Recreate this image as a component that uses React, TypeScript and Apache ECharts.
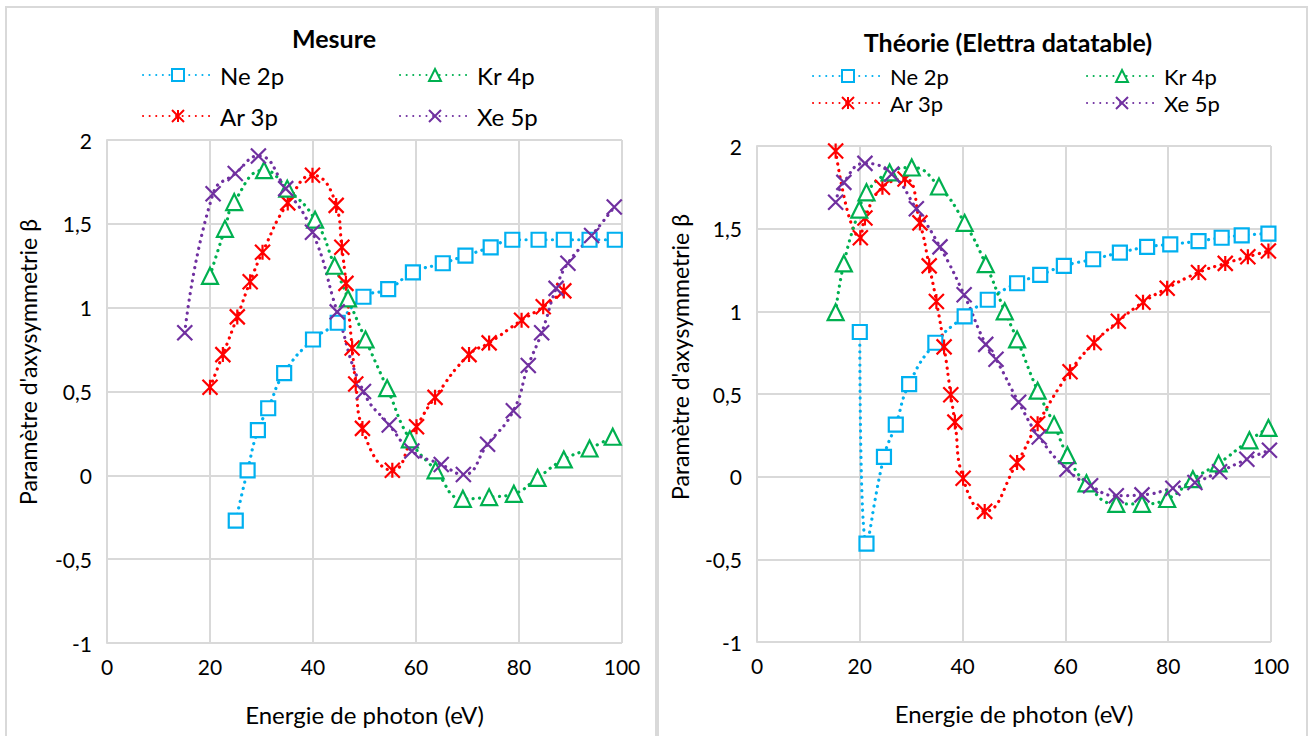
import React, { useEffect, useRef } from "react";
import * as echarts from "echarts";

// ---- Mesure (left panel) ----
const neMesX = [25, 27.3, 29.3, 31.3, 34.4, 40, 44.8, 49.8, 54.6, 59.4, 65.2, 69.6, 74.5, 78.7, 83.8, 88.7, 93.7, 98.6];
const neMesY = [-0.27, 0.03, 0.27, 0.4, 0.61, 0.81, 0.91, 1.065, 1.11, 1.21, 1.265, 1.31, 1.36, 1.405, 1.405, 1.405, 1.405, 1.405];

const krMesX = [20, 22.9, 24.7, 30.5, 35, 40.4, 44.2, 46.8, 50.2, 54.4, 58.8, 63.8, 69.1, 74.2, 79, 83.6, 88.7, 93.7, 98.2];
const krMesY = [1.19, 1.47, 1.63, 1.82, 1.71, 1.525, 1.25, 1.055, 0.81, 0.52, 0.215, 0.03, -0.14, -0.13, -0.11, -0.015, 0.095, 0.16, 0.23];

const arMesX = [20, 22.5, 25.3, 27.8, 30.2, 35.1, 39.9, 44.5, 45.6, 46.4, 47.6, 48.3, 49.6, 55.4, 60.1, 63.7, 70.3, 74.2, 80.5, 84.7, 88.7];
const arMesY = [0.525, 0.72, 0.945, 1.155, 1.33, 1.625, 1.79, 1.61, 1.36, 1.145, 0.76, 0.545, 0.28, 0.03, 0.29, 0.465, 0.72, 0.79, 0.925, 1.005, 1.1];

const xeMesX = [15.1, 20.6, 24.9, 29.4, 34.7, 39.9, 44.7, 49.8, 54.8, 59.2, 64.9, 69.2, 73.9, 78.9, 81.8, 84.4, 87.2, 89.5, 94.1, 98.5];
const xeMesY = [0.85, 1.68, 1.8, 1.905, 1.71, 1.45, 0.975, 0.5, 0.3, 0.145, 0.065, 0.005, 0.185, 0.385, 0.655, 0.85, 1.115, 1.265, 1.43, 1.6];

// ---- Théorie (right panel) ----
const neThX = [20, 21.3, 24.7, 27, 29.6, 34.7, 40.4, 44.9, 50.6, 55.1, 59.7, 65.4, 70.6, 75.9, 80.4, 85.9, 90.4, 94.3, 99.5];
const neThY = [0.875, -0.405, 0.12, 0.315, 0.56, 0.81, 0.97, 1.07, 1.17, 1.22, 1.275, 1.315, 1.355, 1.39, 1.405, 1.425, 1.445, 1.46, 1.47];

const krThX = [15.3, 16.9, 19.9, 21.3, 25.8, 30.1, 35.4, 40.4, 44.5, 48.2, 50.6, 54.6, 57.8, 60.4, 64.1, 69.9, 74.9, 79.8, 84.8, 89.8, 95.8, 99.5];
const krThY = [0.995, 1.29, 1.615, 1.72, 1.84, 1.87, 1.755, 1.535, 1.285, 1.0, 0.83, 0.52, 0.315, 0.13, -0.04, -0.165, -0.165, -0.135, -0.015, 0.08, 0.22, 0.295];

const arThX = [15.3, 20.1, 21, 24.4, 28.8, 31.7, 33.5, 34.9, 36.4, 37.7, 38.5, 40.1, 44.3, 50.6, 54.6, 60.9, 65.6, 70.3, 75.1, 79.8, 85.9, 91.1, 95.5, 99.5];
const arThY = [1.97, 1.445, 1.565, 1.75, 1.8, 1.535, 1.275, 1.06, 0.785, 0.495, 0.33, -0.01, -0.21, 0.085, 0.32, 0.635, 0.81, 0.94, 1.055, 1.14, 1.235, 1.29, 1.33, 1.365];

const xeThX = [15.3, 16.9, 21, 26.2, 31, 35.6, 40.3, 44.5, 46.5, 50.9, 54.9, 60.3, 64.9, 69.9, 74.9, 80.9, 85.2, 90, 95.3, 99.7];
const xeThY = [1.66, 1.78, 1.895, 1.83, 1.62, 1.39, 1.1, 0.8, 0.71, 0.45, 0.24, 0.045, -0.055, -0.115, -0.11, -0.07, -0.035, 0.03, 0.105, 0.16];

const panelTitles = ["Mesure", "Théorie (Elettra datatable)"];
const xAxisTitle = "Energie de photon (eV)";
const yAxisTitle = "Paramètre d'axysymmetrie β";

const FONT = "Lato, 'Open Sans', 'DejaVu Sans', sans-serif";

const COLORS: Record<string, string> = {
  "Ne 2p": "#00B0F0",
  "Kr 4p": "#00B050",
  "Ar 3p": "#FF0000",
  "Xe 5p": "#7030A0",
};

const SYMBOLS: Record<string, string> = {
  "Ne 2p": "rect",
  "Kr 4p": "triangle",
  "Ar 3p": "path://M0,0 L0,20 M-10,0 L10,20 M-10,20 L10,0",
  "Xe 5p": "path://M-10,0 L10,20 M-10,20 L10,0",
};

const SIZES: Record<string, number> = {
  "Ne 2p": 14,
  "Kr 4p": 16,
  "Ar 3p": 15,
  "Xe 5p": 15,
};

function pairs(xs: number[], ys: number[]) {
  return xs.map((x, i) => [x, ys[i]]);
}

function makeSeries(name: string, xs: number[], ys: number[], idx: number) {
  const c = COLORS[name];
  const open = name === "Ne 2p" || name === "Kr 4p";
  return {
    type: "line",
    name,
    xAxisIndex: idx,
    yAxisIndex: idx,
    data: pairs(xs, ys),
    smooth: 0.5,
    symbol: SYMBOLS[name],
    symbolSize: SIZES[name],
    showAllSymbol: true,
    lineStyle: { color: c, width: 3.2, type: [0.1, 6.5], cap: "round" },
    itemStyle: { color: open ? "#ffffff" : c, borderColor: c, borderWidth: 2.2 },
    z: 3,
  };
}

const gridBox = [
  { left: 107, top: 140, width: 515, height: 503 },
  { left: 757, top: 146, width: 514, height: 496 },
];

function xAx(i: number) {
  return {
    type: "value",
    gridIndex: i,
    min: 0,
    max: 100,
    interval: 20,
    name: xAxisTitle,
    nameLocation: "middle",
    nameGap: 59,
    nameTextStyle: { fontSize: 24, fontFamily: FONT, color: "#000" },
    axisLine: { show: true, lineStyle: { color: "#d9d9d9", width: 2 } },
    axisTick: { show: false },
    axisLabel: { fontSize: 21, fontFamily: FONT, color: "#000", margin: 13 },
    splitLine: { show: true, lineStyle: { color: "#d9d9d9", width: 2 } },
  };
}

function yAx(i: number) {
  return {
    type: "value",
    gridIndex: i,
    min: -1,
    max: 2,
    interval: 0.5,
    axisLine: { show: true, lineStyle: { color: "#d9d9d9", width: 2 } },
    axisTick: { show: false },
    axisLabel: {
      fontSize: 21,
      fontFamily: FONT,
      color: "#000",
      margin: 15,
      formatter: (v: number) => String(v).replace(".", ","),
    },
    splitLine: { show: true, lineStyle: { color: "#d9d9d9", width: 2 } },
  };
}

function legendItem(name: string, left: number, centerY: number, size: number) {
  return {
    data: [name],
    left,
    top: centerY - size / 2,
    padding: 0,
    itemWidth: 70,
    itemHeight: 15,
    selectedMode: false,
    textStyle: {
      fontSize: size,
      lineHeight: size,
      fontFamily: FONT,
      color: "#000",
      padding: [0, 0, 0, 2],
    },
  };
}

function yTitle(x: number, y: number) {
  return {
    type: "text",
    x,
    y,
    rotation: Math.PI / 2,
    style: {
      text: yAxisTitle,
      align: "center",
      verticalAlign: "middle",
      fontSize: 23,
      fontFamily: FONT,
      fill: "#000",
    },
  };
}

function panelTitle(text: string, x: number, y: number) {
  return {
    type: "text",
    x,
    y,
    style: {
      text,
      align: "center",
      verticalAlign: "middle",
      fontSize: 25,
      fontWeight: "bold",
      fontFamily: FONT,
      fill: "#000",
    },
  };
}

export default function App() {
  const ref = useRef<HTMLDivElement>(null);
  useEffect(() => {
    if (!ref.current) return;
    const chart = echarts.init(ref.current, undefined, { renderer: "svg" });
    const option = {
      animation: false,
      backgroundColor: "#ffffff",
      grid: gridBox,
      xAxis: [xAx(0), xAx(1)],
      yAxis: [yAx(0), yAx(1)],
      legend: [
        legendItem("Ne 2p", 142, 75, 24),
        legendItem("Kr 4p", 399, 75, 24),
        legendItem("Ar 3p", 142, 116, 24),
        legendItem("Xe 5p", 399, 116, 24),
        legendItem("Ne 2p", 812, 76, 22),
        legendItem("Kr 4p", 1086, 76, 22),
        legendItem("Ar 3p", 812, 103, 22),
        legendItem("Xe 5p", 1086, 103, 22),
      ],
      series: [
        makeSeries("Ne 2p", neMesX, neMesY, 0),
        makeSeries("Ar 3p", arMesX, arMesY, 0),
        makeSeries("Kr 4p", krMesX, krMesY, 0),
        makeSeries("Xe 5p", xeMesX, xeMesY, 0),
        makeSeries("Ne 2p", neThX, neThY, 1),
        makeSeries("Ar 3p", arThX, arThY, 1),
        makeSeries("Kr 4p", krThX, krThY, 1),
        makeSeries("Xe 5p", xeThX, xeThY, 1),
      ],
      graphic: [
        {
          type: "rect",
          shape: { x: 6, y: 7, width: 650, height: 745 },
          style: { fill: "none", stroke: "#d9d9d9", lineWidth: 2 },
          silent: true,
          z: -10,
        },
        {
          type: "rect",
          shape: { x: 658, y: 7, width: 649, height: 745 },
          style: { fill: "none", stroke: "#d9d9d9", lineWidth: 2 },
          silent: true,
          z: -10,
        },
        panelTitle(panelTitles[0], 334, 38),
        panelTitle(panelTitles[1], 1008, 42),
        yTitle(28, 362),
        yTitle(680, 357),
      ],
    };
    chart.setOption(option as any);
    return () => chart.dispose();
  }, []);
  return (
    <div
      ref={ref}
      style={{ position: "absolute", left: 0, top: 0, width: 1310, height: 736 }}
    />
  );
}
